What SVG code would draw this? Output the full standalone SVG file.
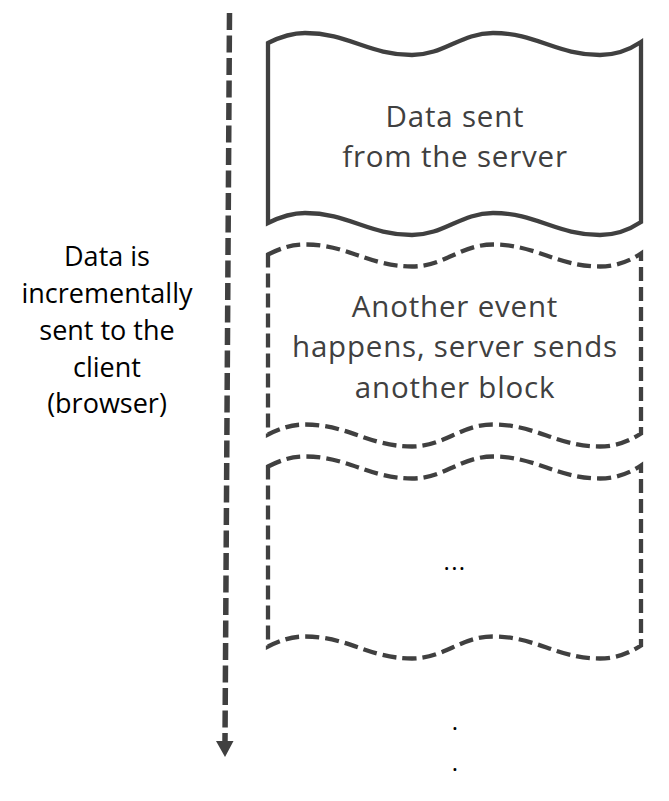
<svg xmlns="http://www.w3.org/2000/svg" xmlns:xlink="http://www.w3.org/1999/xlink" width="669" height="801" viewBox="0 0 669 801">
  <style>
    .tape { fill: #ffffff; stroke: #404040; stroke-width: 4.3; stroke-linejoin: miter; }
    .dashed { stroke-dasharray: 14 6; }
    .boxtext { font-family: "Open Sans", "Noto Sans", sans-serif; font-size: 29.5px; fill: #404040; text-anchor: middle; letter-spacing: 0.8px; }
    .sidetext { font-family: "Open Sans", "Noto Sans", sans-serif; font-size: 27px; fill: #000000; text-anchor: middle; }
    .dots { font-family: "Open Sans", "Noto Sans", sans-serif; font-size: 24px; fill: #000000; text-anchor: middle; letter-spacing: 1.3px; }
    .flow { fill: none; stroke: #404040; stroke-width: 5.5; stroke-dasharray: 17 5.5; }
  </style>
  <defs>
    <path id="tapeShape" d="M268,43 C280,37 291,33 305,33 C348,33 369,55 412,55 C444,55 461,33 493,33 C536,33 557,55 600,55 C615,55 629,50 641,42 L641,222 C629,230 615,235 600,235 C557,235 536,213 493,213 C461,213 444,235 412,235 C369,235 348,213 305,213 C291,213 280,217 268,223 Z"/>
  </defs>

  <g id="connectors">
    <line class="flow" x1="229.5" y1="13" x2="225" y2="741"/>
    <polygon points="216,741 233.5,741 225,757" fill="#404040"/>
  </g>

  <g id="side-label">
    <text class="sidetext" x="107" y="266">Data is</text>
    <text class="sidetext" x="107" y="303">incrementally</text>
    <text class="sidetext" x="107" y="340">sent to the</text>
    <text class="sidetext" x="107" y="377">client</text>
    <text class="sidetext" x="107" y="413">(browser)</text>
  </g>

  <g id="block1">
    <use xlink:href="#tapeShape" href="#tapeShape" class="tape"/>
    <text class="boxtext" x="455" y="127">Data sent</text>
    <text class="boxtext" x="455" y="167">from the server</text>
  </g>

  <g id="block2">
    <use xlink:href="#tapeShape" href="#tapeShape" class="tape dashed" transform="translate(0,211.5)"/>
    <text class="boxtext" x="455" y="317">Another event</text>
    <text class="boxtext" x="455" y="357">happens, server sends</text>
    <text class="boxtext" x="455" y="398">another block</text>
  </g>

  <g id="block3">
    <use xlink:href="#tapeShape" href="#tapeShape" class="tape dashed" transform="translate(0,423.5)"/>
    <text class="dots" x="455" y="570">...</text>
  </g>

  <g id="continuation">
    <text class="dots" x="455.5" y="730">.</text>
    <text class="dots" x="455.5" y="771">.</text>
  </g>
</svg>
